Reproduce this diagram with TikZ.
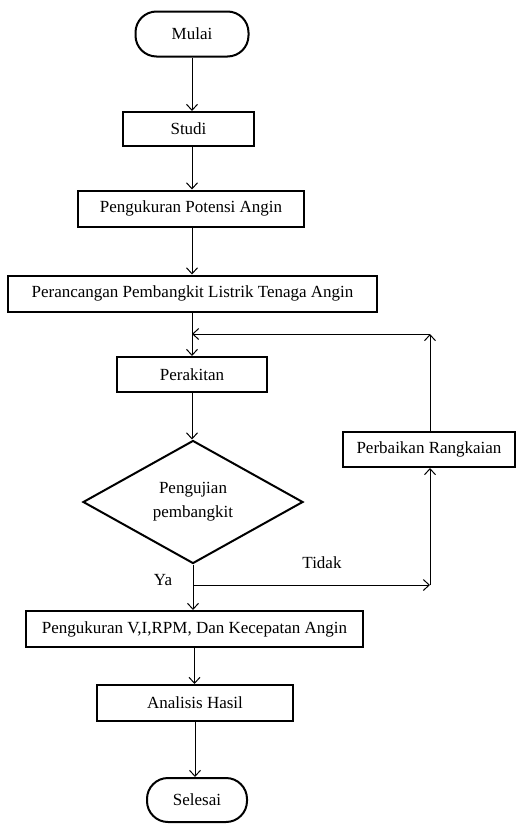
\documentclass[tikz,border=0pt]{standalone}
\usepackage{fontspec}
\setmainfont{Liberation Serif}
\usetikzlibrary{arrows.meta,shapes.geometric}
\begin{document}
\begin{tikzpicture}[x=1pt,y=-1pt,
  font=\fontsize{17}{20}\selectfont,
  box/.style={draw,line width=2pt,rectangle,inner sep=0pt},
  term/.style={draw,line width=2pt,rectangle,rounded corners=21pt,inner sep=0pt},
  dec/.style={draw,line width=2pt,diamond,inner sep=0pt,align=center},
  conn/.style={line width=1pt,-{Straight Barb[length=6pt,width=11pt,line width=1pt]}},
  plain/.style={line width=1pt}]
\useasboundingbox (0,0) rectangle (516,825);
\node[term,minimum width=113pt,minimum height=45pt] (mulai) at (192,34) {Mulai};
\node[box,minimum width=131pt,minimum height=34pt] (studi) at (188.5,129) {Studi};
\node[box,minimum width=226pt,minimum height=36pt] (potensi) at (191,208.5) {Pengukuran Potensi Angin};
\node[box,minimum width=369pt,minimum height=36pt] (rancang) at (192.5,293.5) {Perancangan Pembangkit Listrik Tenaga Angin};
\node[box,minimum width=150pt,minimum height=35pt] (rakit) at (192,374.5) {Perakitan};
\node[dec,minimum width=220pt,minimum height=123pt] (uji) at (193,502) {Pengujian\\[4pt]pembangkit};
\node[box,minimum width=172pt,minimum height=35pt] (baik) at (429,449.5) {Perbaikan Rangkaian};
\node[box,minimum width=337pt,minimum height=36pt] (ukur) at (194.5,629) {Pengukuran V,I,RPM, Dan Kecepatan Angin};
\node[box,minimum width=196pt,minimum height=36pt] (hasil) at (195,703) {Analisis Hasil};
\node[term,minimum width=100pt,minimum height=44pt] (selesai) at (197,800) {Selesai};
\coordinate (j1) at (430,585);
\coordinate (j2) at (430,334);
\node (ya) at (163,580) {Ya};
\node (tidak) at (322,563) {Tidak};
\draw[conn] (mulai.south) -- (mulai.south |- studi.north);
\draw[conn] (studi.south -| mulai.south) -- (mulai.south |- potensi.north);
\draw[conn] (mulai.south |- potensi.south) -- (mulai.south |- rancang.north);
\draw[conn] (rakit.north |- rancang.south) -- (rakit.north);
\draw[conn] (rakit.south) -- (rakit.south |- uji.north);
\draw[conn] (uji.south) -- (uji.south |- ukur.north);
\draw[conn] (uji.south |- j1) -- (j1);
\draw[conn] (j1) -- (baik.south -| j1);
\draw[conn] (baik.north -| j2) -- (j2);
\draw[conn] (j2) -- (rakit.north |- j2);
\draw[conn] (ukur.south) -- (ukur.south |- hasil.north);
\draw[conn] (hasil.south) -- (hasil.south |- selesai.north);
\end{tikzpicture}
\end{document}
